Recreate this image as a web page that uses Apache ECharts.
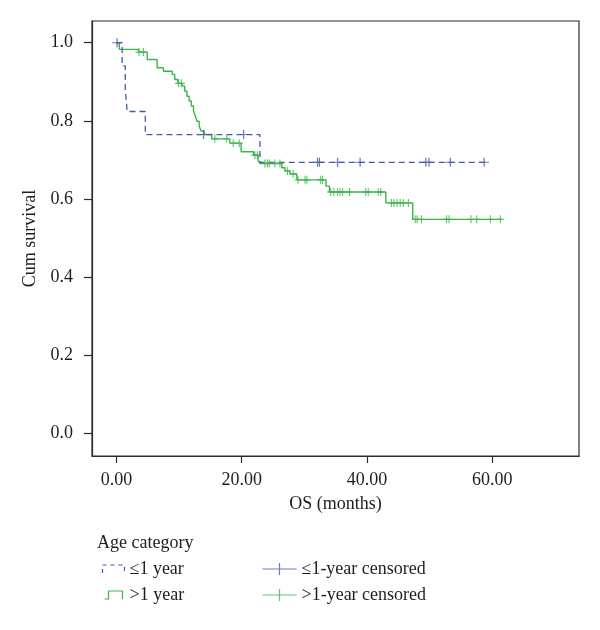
<!DOCTYPE html>
<html>
<head>
<meta charset="utf-8">
<script src="https://cdn.jsdelivr.net/npm/echarts@6/dist/echarts.min.js"></script>
<style>
html,body{margin:0;padding:0;background:#fff;}
#chart{width:600px;height:630px;}
</style>
</head>
<body>
<div id="chart"></div>
<script>
// ---- data ----
var xTicks = [0, 20, 40, 60];
var yTicks = [0, 0.2, 0.4, 0.6, 0.8, 1.0];

var blueT = [0, 0.9, 1.4, 1.7, 4.6, 22.9, 58.9];
var blueS = [1.0, 0.941, 0.882, 0.824, 0.765, 0.694, 0.694];
var blueCensT = [0.1, 13.9, 20.3, 32.1, 32.4, 35.3, 38.9, 49.4, 49.9, 53.3, 58.7];
var blueCensS = [1.0, 0.765, 0.765, 0.694, 0.694, 0.694, 0.694, 0.694, 0.694, 0.694, 0.694];

var greenT = [0, 0.45, 3.5, 4.9, 6.5, 7.5, 8.9, 9.3, 9.8, 10.5, 10.9, 11.25, 11.6, 11.95, 12.3, 12.6, 12.85, 13.2, 13.5, 14.0, 15.2, 18.1, 19.9, 21.9, 22.6, 22.9, 26.4, 26.9, 27.7, 28.8, 33.45, 34.0, 43.0, 47.3, 61.5];
var greenS = [1.0, 0.983, 0.976, 0.957, 0.936, 0.927, 0.919, 0.906, 0.896, 0.889, 0.876, 0.863, 0.851, 0.838, 0.825, 0.812, 0.799, 0.787, 0.774, 0.765, 0.754, 0.743, 0.721, 0.712, 0.698, 0.691, 0.680, 0.672, 0.664, 0.649, 0.633, 0.618, 0.590, 0.548, 0.548];
var greenCensT = [3.6, 4.3, 9.9, 10.35, 15.7, 17.6, 18.65, 19.6, 22.1, 22.5, 23.7, 24.1, 24.4, 25.3, 26.1, 27.3, 28.2, 29.0, 30.1, 30.4, 32.6, 32.9, 34.2, 34.7, 35.3, 35.7, 36.1, 37.2, 39.8, 40.2, 41.8, 42.2, 43.9, 44.3, 44.8, 45.3, 45.8, 46.6, 47.7, 48.0, 48.7, 52.7, 53.1, 56.6, 57.5, 59.7, 61.3];
var greenCensS = [0.976, 0.976, 0.896, 0.896, 0.754, 0.754, 0.743, 0.743, 0.712, 0.712, 0.691, 0.691, 0.691, 0.691, 0.691, 0.672, 0.664, 0.649, 0.649, 0.649, 0.649, 0.649, 0.618, 0.618, 0.618, 0.618, 0.618, 0.618, 0.618, 0.618, 0.618, 0.618, 0.590, 0.590, 0.590, 0.590, 0.590, 0.590, 0.548, 0.548, 0.548, 0.548, 0.548, 0.548, 0.548, 0.548, 0.548];

var names = ['\u22641 year', '>1 year', '\u22641-year censored', '>1-year censored'];

// ---- styles ----
var BLUE = '#4659a6';
var GREEN = '#3cb64b';
var AXIS = '#2b2b2b';
var TXT = '#1e1e1e';
var FONT = "'Liberation Serif', 'DejaVu Serif', serif";

function zip(a, b) { return a.map(function (v, i) { return [v, b[i]]; }); }

var plusSym = 'path://M0,5L10,5M5,0L5,10';

var chart = echarts.init(document.getElementById('chart'));
chart.setOption({
  animation: false,
  backgroundColor: '#fff',
  textStyle: { fontFamily: FONT },
  grid: { left: 92, right: 21, top: 21, bottom: 174, show: true, borderColor: AXIS, borderWidth: 1.2, containLabel: false },
  xAxis: {
    type: 'value', min: -3.91, max: 73.85,
    name: 'OS (months)', nameLocation: 'middle', nameGap: 39,
    nameTextStyle: { fontFamily: FONT, fontSize: 18, color: TXT },
    axisLine: { show: true, onZero: false, lineStyle: { color: AXIS, width: 1.2 } },
    axisTick: { show: true, length: 7, customValues: xTicks, lineStyle: { color: AXIS, width: 1.2 } },
    axisLabel: { customValues: xTicks, margin: 15, fontFamily: FONT, fontSize: 18, color: TXT,
      formatter: function (v) { return v.toFixed(2); } },
    splitLine: { show: false }
  },
  yAxis: {
    type: 'value', min: -0.0577, max: 1.0556,
    name: 'Cum survival', nameLocation: 'middle', nameGap: 53,
    nameTextStyle: { fontFamily: FONT, fontSize: 18, color: TXT },
    axisLine: { show: true, onZero: false, lineStyle: { color: AXIS, width: 1.2 } },
    axisTick: { show: true, length: 8, customValues: yTicks, lineStyle: { color: AXIS, width: 1.2 } },
    axisLabel: { customValues: yTicks, margin: 19, fontFamily: FONT, fontSize: 18, color: TXT,
      formatter: function (v) { return v.toFixed(1); } },
    splitLine: { show: false }
  },
  title: {
    text: 'Age category', left: 92, top: 529,
    textStyle: { fontFamily: FONT, fontSize: 18, fontWeight: 'normal', color: TXT }
  },
  legend: [
    {
      orient: 'vertical', left: 95, top: 555, itemGap: 8, itemWidth: 22, itemHeight: 8,
      textStyle: { fontFamily: FONT, fontSize: 18, color: TXT, lineHeight: 18 },
      data: [
        { name: names[0], icon: 'path://M0,8L0,0L22,0L22,8',
          itemStyle: { color: 'none', borderColor: BLUE, borderWidth: 1.2, borderType: [4, 4] } },
        { name: names[1], icon: 'path://M0,8L4,8L4,0L18,0L18,8',
          itemStyle: { color: 'none', borderColor: GREEN, borderWidth: 1.2 } }
      ]
    },
    {
      orient: 'vertical', left: 255, top: 555, itemGap: 8, itemWidth: 34, itemHeight: 12,
      textStyle: { fontFamily: FONT, fontSize: 18, color: TXT, lineHeight: 18 },
      data: [
        { name: names[2], icon: 'path://M0,6L34,6M17,0L17,12',
          itemStyle: { color: 'none', borderColor: BLUE, borderWidth: 1.2 } },
        { name: names[3], icon: 'path://M0,6L34,6M17,0L17,12',
          itemStyle: { color: 'none', borderColor: GREEN, borderWidth: 1.2 } }
      ]
    }
  ],
  series: [
    {
      name: names[0], type: 'line', step: 'end', showSymbol: false, symbol: 'none',
      data: zip(blueT, blueS), z: 3,
      lineStyle: { color: BLUE, width: 1.3, type: [6, 4] }, itemStyle: { color: BLUE }
    },
    {
      name: names[1], type: 'line', step: 'end', showSymbol: false, symbol: 'none',
      data: zip(greenT, greenS), z: 2,
      lineStyle: { color: GREEN, width: 1.4 }, itemStyle: { color: GREEN }
    },
    {
      name: names[2], type: 'scatter', symbol: plusSym, symbolSize: [10, 9],
      data: zip(blueCensT, blueCensS), z: 4,
      itemStyle: { color: 'none', borderColor: BLUE, borderWidth: 1.2 }
    },
    {
      name: names[3], type: 'scatter', symbol: plusSym, symbolSize: [7, 8],
      data: zip(greenCensT, greenCensS), z: 3,
      itemStyle: { color: 'none', borderColor: GREEN, borderWidth: 1.2 }
    }
  ]
});
</script>
</body>
</html>
